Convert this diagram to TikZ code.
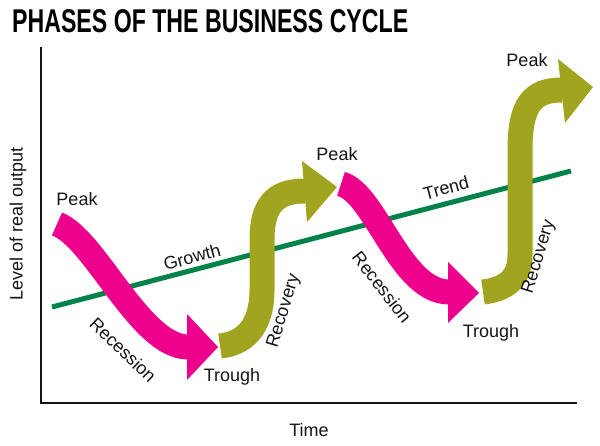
\documentclass[tikz,border=0pt]{standalone}
\usepackage{fontspec}
\usepackage{graphicx}
\setmainfont{Liberation Sans}
\definecolor{pinkc}{RGB}{236,0,140}
\definecolor{olivec}{RGB}{160,164,30}
\definecolor{trendc}{RGB}{0,130,72}
\definecolor{inkc}{RGB}{20,20,20}
\tikzset{
  lbl/.style={font=\fontsize{18}{20}\selectfont, text=inkc, inner sep=0pt},
  axisline/.style={draw=inkc, line width=2.4pt},
  trendline/.style={draw=trendc, line width=5pt},
  pinkband/.style={draw=pinkc, line width=25pt, line cap=butt},
  oliveband/.style={draw=olivec, line width=25pt, line cap=butt},
  pinkhead/.style={fill=pinkc},
  olivehead/.style={fill=olivec},
}
\begin{document}
\begin{tikzpicture}[x=1pt,y=-1pt]
\useasboundingbox (0,0) rectangle (600,446);
% title
\node[anchor=base west, inner sep=0pt] (title) at (12,33)
  {\resizebox{396pt}{23pt}{\bfseries PHASES OF THE BUSINESS CYCLE}};
% axes
\coordinate (ytop) at (41,47);
\coordinate (orig) at (41,403);
\coordinate (xend) at (577,403);
\draw[axisline] (ytop) -- (orig) -- (xend);
\node[lbl, rotate=90] (ylab) at (18,224) {Level of real output};
\node[lbl] (xlab) at (309,430) {Time};
% trend
\coordinate (t1) at (52,307);
\coordinate (t2) at (571,171);
\draw[trendline] (t1) -- (t2);
% olive 1
\coordinate (o1s) at (220,346);
\coordinate (o1a) at (262,290);
\coordinate (o1b) at (262,240);
\coordinate (o1e) at (305,191);
\draw[oliveband] (o1s) .. controls (250,343) and (262,320) .. (o1a) -- (o1b)
  .. controls (262,205) and (275,191) .. (o1e);
\coordinate (o1tip) at (337,187);
\coordinate (o1u) at (302,161);
\coordinate (o1d) at (307,222);
\fill[olivehead] (o1u) -- (o1tip) -- (o1d) -- cycle;
% olive 2
\coordinate (o2s) at (483,292);
\coordinate (o2a) at (520,255);
\coordinate (o2b) at (520,150);
\coordinate (o2e) at (562,90);
\draw[oliveband] (o2s) .. controls (510,289) and (520,275) .. (o2a) -- (o2b)
  .. controls (520,105) and (532,90) .. (o2e);
\coordinate (o2tip) at (593,87);
\coordinate (o2u) at (558,59);
\coordinate (o2d) at (565,123);
\fill[olivehead] (o2u) -- (o2tip) -- (o2d) -- cycle;
% pink 1
\coordinate (p1s) at (57,224);
\coordinate (p1e) at (188,347);
\draw[pinkband] (p1s) .. controls (95,238) and (140,347) .. (p1e);
\coordinate (p1tip) at (218,347);
\coordinate (p1u) at (187,314);
\coordinate (p1d) at (187,380);
\fill[pinkhead] (p1u) -- (p1tip) -- (p1d) -- cycle;
% pink 2
\coordinate (p2s) at (341,184);
\coordinate (p2e) at (449,292);
\draw[pinkband] (p2s) .. controls (375,192) and (400,292) .. (p2e);
\coordinate (p2tip) at (479,293);
\coordinate (p2u) at (448,262);
\coordinate (p2d) at (448,323);
\fill[pinkhead] (p2u) -- (p2tip) -- (p2d) -- cycle;
% labels
\node[lbl] (peak1) at (77,199) {Peak};
\node[lbl] (peak2) at (337,154) {Peak};
\node[lbl] (peak3) at (527,60) {Peak};
\node[lbl, rotate=15] (growth) at (192,257) {Growth};
\node[lbl, rotate=15] (trend) at (446,188) {Trend};
\node[lbl, rotate=-44] (rec1) at (123,350) {Recession};
\node[lbl, rotate=-52] (rec2) at (382,287) {Recession};
\node[lbl] (trough1) at (232,377) {Trough};
\node[lbl] (trough2) at (491,333) {Trough};
\node[lbl, rotate=73] (recov1) at (284,311) {Recovery};
\node[lbl, rotate=73] (recov2) at (539,257) {Recovery};
\end{tikzpicture}
\end{document}
